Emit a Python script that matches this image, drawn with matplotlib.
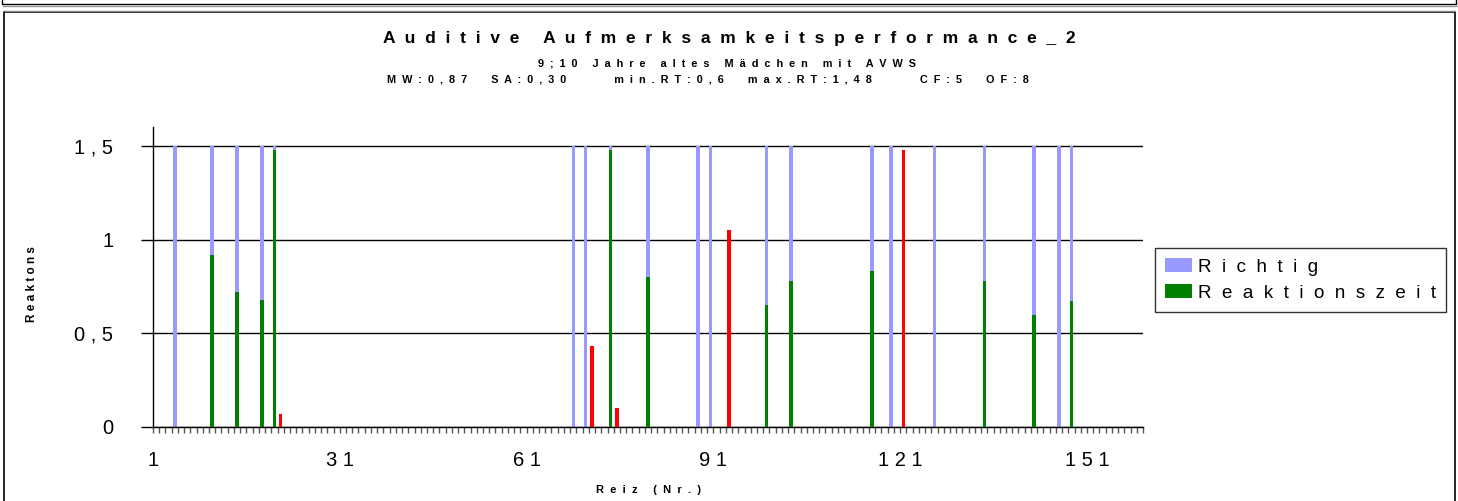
import numpy as np
import matplotlib.pyplot as plt
from matplotlib.patches import Patch
from matplotlib.lines import Line2D

plt.rcParams['font.family'] = ['Liberation Sans', 'DejaVu Sans']

# Daten
n_reize = 159
richtig_nr = [4, 10, 14, 18, 20, 68, 70, 74, 80, 88, 90, 99, 103, 116, 119, 126, 134, 142, 146, 148]
richtig_wert = 1.5
rt_nr = [10, 14, 18, 20, 74, 80, 99, 103, 116, 134, 142, 148]
rt_wert = [0.92, 0.72, 0.68, 1.48, 1.48, 0.80, 0.65, 0.78, 0.83, 0.78, 0.60, 0.67]
fehler_nr = [21, 71, 75, 93, 121]
fehler_wert = [0.07, 0.43, 0.10, 1.05, 1.48]

x_labels_nr = [1, 31, 61, 91, 121, 151]
y_ticks = [0, 0.5, 1, 1.5]
y_labels = ["0", "0 , 5", "1", "1 , 5"]

def sp(s, sep=" "):
    # Excel-Look: gesperrte Schrift
    return sep.join(s)

reiz = np.arange(1, n_reize + 1)
richtig = np.zeros(n_reize)
richtig[np.array(richtig_nr) - 1] = richtig_wert
rt = np.zeros(n_reize)
rt[np.array(rt_nr) - 1] = rt_wert
fehler = np.zeros(n_reize)
fehler[np.array(fehler_nr) - 1] = fehler_wert

W, H = 1458, 501
fig = plt.figure(figsize=(W / 100, H / 100), dpi=100)
ax = fig.add_axes([153 / W, 1 - 427 / H, 990 / W, 300 / H])

bw = 0.55
# Richtig liegt hinter der Reaktionszeit -> nur der sichtbare Teil oberhalb
ax.bar(reiz, np.where(richtig > 0, richtig - rt, 0), bottom=rt, width=bw,
       color="#9999FF", linewidth=0, zorder=2)
ax.bar(reiz, rt, width=bw, color="#008000", linewidth=0, zorder=3)
ax.bar(reiz, fehler, width=bw, color="#FF0000", linewidth=0, zorder=3)

ax.set_xlim(0.5, n_reize + 0.5)
ax.set_ylim(0, 1.6)

# y-Achse
ax.set_yticks(y_ticks)
ax.set_yticklabels(y_labels, fontsize=14.5)
ax.tick_params(axis="y", length=8.6, width=1, color="black", pad=20)
ax.yaxis.grid(True, color="black", linewidth=1)
ax.set_axisbelow(True)

# x-Achse
ax.xaxis.remove_overlapping_locs = False
ax.set_xticks(np.arange(0.5, n_reize + 1, 1))
ax.set_xticklabels([])
ax.tick_params(axis="x", which="major", length=4.5, width=1, color="#555555")
ax.set_xticks([k - 0.5 for k in x_labels_nr], minor=True)
ax.set_xticklabels([sp(str(k)) for k in x_labels_nr], minor=True, fontsize=14.5)
ax.tick_params(axis="x", which="minor", length=0, pad=17)

for s in ["top", "right"]:
    ax.spines[s].set_visible(False)
ax.spines["left"].set_linewidth(1)
ax.spines["bottom"].set_linewidth(1)

ax.set_ylabel(sp("Reaktons"), fontsize=8.5, fontweight="bold")
ax.yaxis.set_label_coords((38 - 153) / 990, (427 - 284) / 300)
ax.set_xlabel(sp("Reiz (Nr.)", "  "), fontsize=8, fontweight="bold")
ax.xaxis.set_label_coords(0.5, (427 - 485) / 300)

# Titel
fig.text(0.5, 1 - 38 / H, sp("Auditive Aufmerksamkeitsperformance_2", "  "),
         ha="center", va="center", fontsize=12.5, fontweight="bold")
fig.text(727 / W, 1 - 63 / H, sp("9;10 Jahre altes Mädchen mit AVWS", "  "),
         ha="center", va="center", fontsize=7.8, fontweight="bold")
kurz, lang = " " * 8, " " * 16
zeile3 = (sp("MW:0,87", "  ") + kurz + sp("SA:0,30", "  ") + lang
          + sp("min.RT:0,6", "  ") + kurz + sp("max.RT:1,48", "  ") + lang
          + sp("CF:5", "  ") + kurz + sp("OF:8", "  "))
fig.text(708 / W, 1 - 79 / H, zeile3,
         ha="center", va="center", fontsize=7.8, fontweight="bold")

# Legende
handles = [Patch(facecolor="#9999FF", edgecolor="none", label=sp("Richtig", "  ")),
           Patch(facecolor="#008000", edgecolor="none", label=sp("Reaktionszeit", "  "))]
leg = fig.legend(handles=handles, loc="upper left",
                 bbox_to_anchor=(1155 / W, 1 - 248 / H), borderaxespad=0,
                 fontsize=13.5, frameon=True, fancybox=False, handlelength=1.4,
                 handleheight=0.75, handletextpad=0.35, labelspacing=0.45,
                 borderpad=0.55)
leg.get_frame().set_edgecolor("black")
leg.get_frame().set_linewidth(1)

# Rahmen (Diagrammbereich)
def fline(x, y, **kw):
    fig.add_artist(Line2D([xx / W for xx in x], [1 - yy / H for yy in y],
                          transform=fig.transFigure, **kw))

fline([2, 2, 1456, 1456], [0, 4, 4, 0], color="black", lw=1)
fline([3, 1457], [5.5, 5.5], color="#999999", lw=1)
fline([4, 4, 1455, 1455], [H, 12, 12, H], color="black", lw=1.2)
fline([5, 1455], [10.5, 10.5], color="#888888", lw=1)

fig.savefig("out.png", dpi=100)
